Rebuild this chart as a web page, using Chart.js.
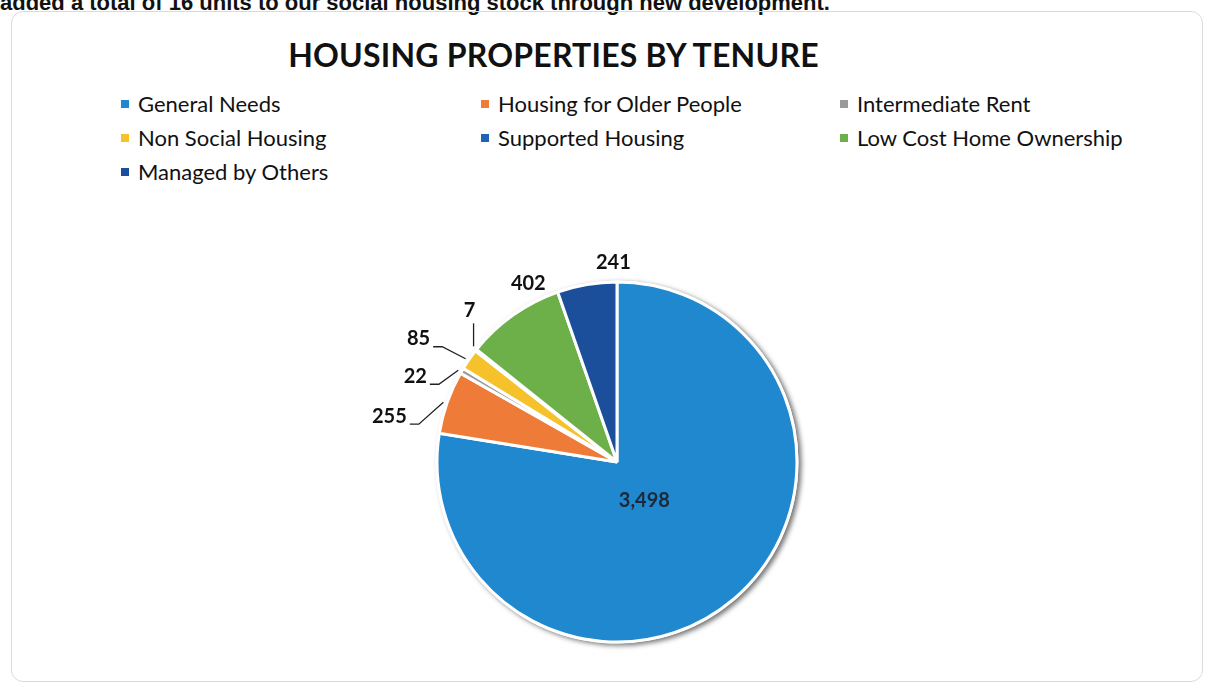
<!DOCTYPE html>
<html>
<head>
<meta charset="utf-8">
<script src="https://cdn.jsdelivr.net/npm/chart.js@4.4.1/dist/chart.umd.min.js"></script>
<style>
  html, body { margin: 0; padding: 0; background: #fff; }
  body { width: 1208px; height: 687px; position: relative; overflow: hidden; }
  .intro {
    position: absolute; left: 0; top: -10px; white-space: nowrap;
    font: bold 22px "Liberation Sans", Arial, sans-serif; color: #111;
  }
  .frame {
    position: absolute; left: 11px; top: 11px; width: 1192px; height: 671px;
    border: 1px solid #dadada; border-radius: 12px; box-sizing: border-box;
  }
  .title {
    position: absolute; left: 0; width: 1107px; top: 35px; text-align: center;
    font: bold 32px Lato, sans-serif; color: #111; letter-spacing: 0.2px;
  }
  #legend { position: absolute; left: 121px; top: 90px; margin: 0; padding: 0; list-style: none;
    display: grid; grid-template-columns: 360px 359px 360px; row-gap: 7px; }
  #legend li { display: flex; align-items: center; height: 27px;
    font: 22px Lato, sans-serif; color: #111; white-space: nowrap; }
  #legend li span.box { display: inline-block; width: 8px; height: 8px; margin-right: 9px; }
  #wrap { position: absolute; left: 0; top: 0; width: 1208px; height: 687px; }
</style>
</head>
<body>
<div class="intro">added a total of 16 units to our social housing stock through new development.</div>
<div class="frame"></div>
<div class="title">HOUSING PROPERTIES BY TENURE</div>
<ul id="legend"></ul>
<div id="wrap"><canvas id="chart" width="1208" height="687"></canvas></div>
<script>
// Housing stock by tenure
const tenures = [
  'General Needs',
  'Housing for Older People',
  'Intermediate Rent',
  'Non Social Housing',
  'Supported Housing',
  'Low Cost Home Ownership',
  'Managed by Others'
];
const properties = [3498, 255, 22, 85, 7, 402, 241];
const tenureColours = ['#1F88CF', '#EE7B38', '#9A9A9A', '#F6C22C', '#2063B3', '#6DB04A', '#1C4F9B'];

// Label placement relative to each slice's outer edge (dx, dy); null = inside label
const labelOffsets = [null, [-55, 15], [-44, 7], [-48, -19], [-4, -38], [17, -29], [27, -19]];

const pieShadow = {
  id: 'pieShadow',
  beforeDatasetsDraw(chart) {
    const arc = chart.getDatasetMeta(0).data[0];
    if (!arc) return;
    const ctx = chart.ctx;
    ctx.save();
    ctx.shadowColor = 'rgba(0,0,0,0.55)';
    ctx.shadowBlur = 5;
    ctx.shadowOffsetX = 3;
    ctx.shadowOffsetY = 2;
    ctx.fillStyle = '#fff';
    ctx.beginPath();
    ctx.arc(arc.x, arc.y, arc.outerRadius + 1.5, 0, Math.PI * 2);
    ctx.fill();
    ctx.restore();
  }
};

const sliceLabels = {
  id: 'sliceLabels',
  afterDatasetsDraw(chart) {
    const ctx = chart.ctx;
    const meta = chart.getDatasetMeta(0);
    const values = chart.data.datasets[0].data;
    ctx.save();
    ctx.font = 'bold 20px Lato, sans-serif';
    ctx.textAlign = 'center';
    ctx.textBaseline = 'middle';
    meta.data.forEach((arc, i) => {
      const mid = (arc.startAngle + arc.endAngle) / 2;
      const text = values[i].toLocaleString('en-GB');
      const off = labelOffsets[i];
      if (!off) {
        const r = arc.outerRadius * 0.26;
        ctx.fillStyle = '#1d2838';
        ctx.fillText(text, arc.x + Math.cos(mid) * r - 3, arc.y + Math.sin(mid) * r + 3);
        return;
      }
      const ex = arc.x + Math.cos(mid) * (arc.outerRadius + 3);
      const ey = arc.y + Math.sin(mid) * (arc.outerRadius + 3);
      const lx = ex + off[0];
      const ly = ey + off[1];
      ctx.fillStyle = '#111';
      ctx.fillText(text, lx, ly);
      // leader line from label to slice edge
      const w = ctx.measureText(text).width;
      ctx.strokeStyle = '#222';
      ctx.lineWidth = 1.3;
      ctx.beginPath();
      if (off[0] < -20) {
        const sx = lx + w / 2 + 3, sy = ly + 8;
        ctx.moveTo(sx, sy);
        ctx.lineTo(sx + 9, sy);
        ctx.lineTo(ex - 1, ey + 1);
        ctx.stroke();
      } else if (Math.abs(off[0]) < 10) {
        ctx.moveTo(lx + 4, ly + 13);
        ctx.lineTo(ex, ey - 2);
        ctx.stroke();
      }
    });
    ctx.restore();
  }
};

const chart = new Chart(document.getElementById('chart'), {
  type: 'pie',
  data: {
    labels: tenures,
    datasets: [{
      data: properties,
      backgroundColor: tenureColours,
      borderColor: '#ffffff',
      borderWidth: 3
    }]
  },
  options: {
    responsive: false,
    animation: false,
    radius: 180,
    layout: { padding: { left: 437, right: 411, top: 282, bottom: 45 } },
    plugins: {
      legend: { display: false },
      tooltip: { enabled: false },
      title: { display: false }
    }
  },
  plugins: [pieShadow, sliceLabels]
});

// Legend list built from the chart's own legend items
const legendEl = document.getElementById('legend');
chart.options.plugins.legend.labels.generateLabels(chart).forEach(item => {
  const li = document.createElement('li');
  const box = document.createElement('span');
  box.className = 'box';
  box.style.background = item.fillStyle;
  li.appendChild(box);
  li.appendChild(document.createTextNode(item.text));
  legendEl.appendChild(li);
});
</script>
</body>
</html>
